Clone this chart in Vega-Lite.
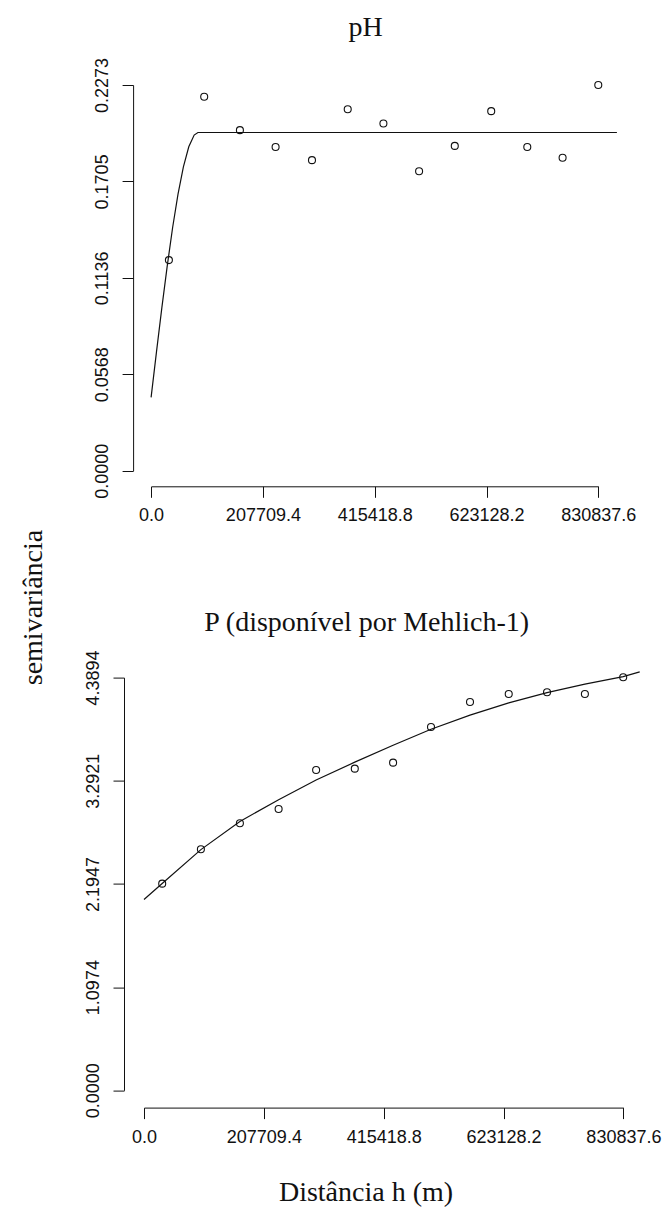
{
  "$schema": "https://vega.github.io/schema/vega-lite/v6.json",
  "background": "white",
  "padding": {"left": 19, "top": 14, "right": 5, "bottom": 5},
  "bounds": "flush",
  "spacing": 206.6,
  "config": {
    "view": {"stroke": null},
    "axis": {
      "grid": false,
      "domainColor": "#111111",
      "tickColor": "#111111",
      "labelColor": "#111111",
      "labelFont": "Liberation Sans",
      "labelFontSize": 18,
      "tickSize": 11,
      "domainWidth": 1,
      "tickWidth": 1,
      "labelFlush": false,
      "labelOverlap": false,
      "titleFont": "Liberation Serif",
      "titleFontSize": 28,
      "titleFontWeight": "normal",
      "titleColor": "#111111"
    },
    "title": {"font": "Liberation Serif", "fontSize": 28, "fontWeight": "normal", "color": "#111111", "frame": "group"}
  },
  "datasets": {
    "ph_pts": [
      {"h": 33070, "g": 0.1241},
      {"h": 98650, "g": 0.2204},
      {"h": 165000, "g": 0.2007},
      {"h": 231300, "g": 0.1908},
      {"h": 298900, "g": 0.1830},
      {"h": 365300, "g": 0.2130},
      {"h": 431600, "g": 0.2046},
      {"h": 497900, "g": 0.1765},
      {"h": 564200, "g": 0.1914},
      {"h": 631900, "g": 0.2119},
      {"h": 698900, "g": 0.1908},
      {"h": 764500, "g": 0.1844},
      {"h": 830800, "g": 0.2273}
    ],
    "ph_fit": [
      {"h": 0, "g": 0.0432},
      {"h": 10000, "g": 0.0700},
      {"h": 20000, "g": 0.0961},
      {"h": 30000, "g": 0.1207},
      {"h": 40000, "g": 0.1433},
      {"h": 50000, "g": 0.1630},
      {"h": 60000, "g": 0.1791},
      {"h": 70000, "g": 0.1909},
      {"h": 80000, "g": 0.1978},
      {"h": 87000, "g": 0.1993},
      {"h": 865400, "g": 0.1993}
    ],
    "p_pts": [
      {"h": 31540, "g": 2.198},
      {"h": 98600, "g": 2.563},
      {"h": 166200, "g": 2.840},
      {"h": 233300, "g": 2.992},
      {"h": 298300, "g": 3.407},
      {"h": 365300, "g": 3.421},
      {"h": 431700, "g": 3.485},
      {"h": 497400, "g": 3.864},
      {"h": 565000, "g": 4.130},
      {"h": 632100, "g": 4.215},
      {"h": 698500, "g": 4.233},
      {"h": 764100, "g": 4.215},
      {"h": 830500, "g": 4.393}
    ],
    "p_fit": [
      {"h": 0, "g": 2.03},
      {"h": 31500, "g": 2.20},
      {"h": 98600, "g": 2.56},
      {"h": 166200, "g": 2.86},
      {"h": 233300, "g": 3.09},
      {"h": 298300, "g": 3.30},
      {"h": 365300, "g": 3.49},
      {"h": 431700, "g": 3.67},
      {"h": 497400, "g": 3.84},
      {"h": 565000, "g": 3.99},
      {"h": 632100, "g": 4.12},
      {"h": 698500, "g": 4.23},
      {"h": 764100, "g": 4.32},
      {"h": 830500, "g": 4.40},
      {"h": 859100, "g": 4.45}
    ]
  },
  "vconcat": [
    {
      "width": 454.3,
      "height": 385.7,
      "title": {"text": "pH", "dx": -5.5, "offset": 15},
      "encoding": {
        "x": {
          "field": "h", "type": "quantitative",
          "scale": {"domain": [0, 830837.6], "range": [7.1, 454.3], "nice": false, "zero": false},
          "axis": {"values": [0, 207709.4, 415418.8, 623128.2, 830837.6], "format": ".1f", "offset": 15.6, "title": null, "labelPadding": 9.5}
        },
        "y": {
          "field": "g", "type": "quantitative",
          "scale": {"domain": [0, 0.2273], "nice": false, "zero": false},
          "axis": {"values": [0, 0.0568, 0.1136, 0.1705, 0.2273], "format": ".4f", "offset": 10.9, "title": "semivariância", "titleX": -99.4, "titleY": 522, "titleBaseline": "middle", "titleAlign": "center", "titleAngle": -90, "labelAngle": -90, "labelAlign": "center", "labelBaseline": "alphabetic", "labelPadding": 14.5}
        }
      },
      "layer": [
        {"data": {"name": "ph_fit"}, "mark": {"type": "line", "color": "#111111", "strokeWidth": 1.2}},
        {"data": {"name": "ph_pts"}, "mark": {"type": "point", "shape": "circle", "filled": false, "color": "#111111", "size": 49, "strokeWidth": 1.1, "opacity": 1}}
      ]
    },
    {
      "width": 479.4,
      "height": 412.7,
      "title": {"text": "P (disponível por Mehlich-1)", "dx": -17, "offset": 13},
      "encoding": {
        "x": {
          "field": "h", "type": "quantitative",
          "scale": {"domain": [0, 830837.6], "nice": false, "zero": false},
          "axis": {"values": [0, 207709.4, 415418.8, 623128.2, 830837.6], "format": ".1f", "offset": 17.3, "title": "Distância h (m)", "labelPadding": 9.5, "titleX": 221.5, "titleY": 84.7, "titleBaseline": "middle", "titleAlign": "center"}
        },
        "y": {
          "field": "g", "type": "quantitative",
          "scale": {"domain": [0, 4.3894], "nice": false, "zero": false},
          "axis": {"values": [0, 1.0974, 2.1947, 3.2921, 4.3894], "format": ".4f", "offset": 20, "title": null, "labelAngle": -90, "labelAlign": "center", "labelBaseline": "alphabetic", "labelPadding": 15}
        }
      },
      "layer": [
        {"data": {"name": "p_fit"}, "mark": {"type": "line", "color": "#111111", "strokeWidth": 1.2}},
        {"data": {"name": "p_pts"}, "mark": {"type": "point", "shape": "circle", "filled": false, "color": "#111111", "size": 49, "strokeWidth": 1.1, "opacity": 1}}
      ]
    }
  ]
}
